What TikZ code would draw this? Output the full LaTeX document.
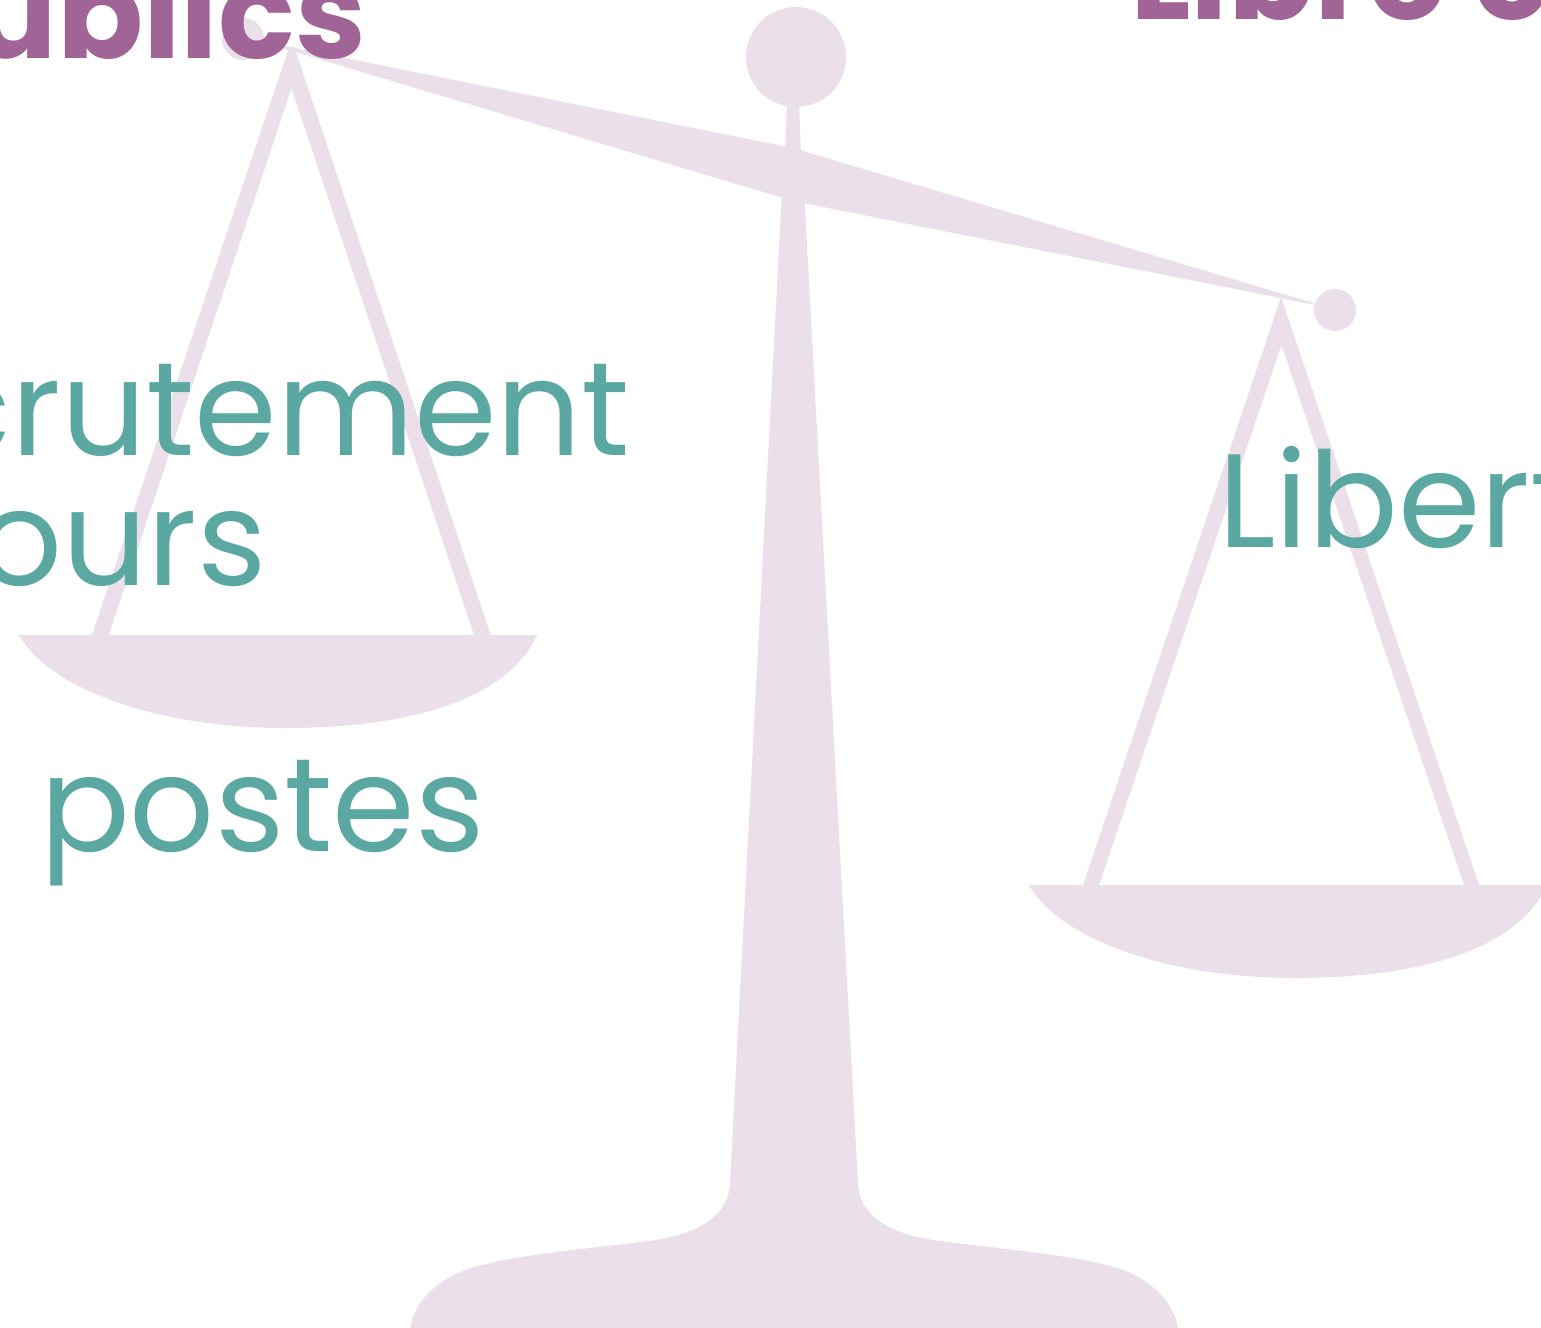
\documentclass[tikz,border=0pt]{standalone}
\usepackage{fontspec}
\newfontfamily\pop{Poppins}
\definecolor{scalec}{HTML}{EBE0EA}
\definecolor{tealc}{HTML}{5BA8A2}
\definecolor{purc}{HTML}{A06497}
\begin{document}
\begin{tikzpicture}[x=1pt,y=-1pt,
  scalefill/.style={fill=scalec,draw=none},
  tealtxt/.style={inner sep=0pt,outer sep=0pt,text=tealc,font=\pop\fontsize{133}{133}\selectfont},
  purtxt/.style={inner sep=0pt,outer sep=0pt,text=purc,font=\pop\bfseries\fontsize{127}{127}\selectfont}]
\useasboundingbox (0,0) rectangle (1541,1327);
\clip (0,0) rectangle (1541,1327);
\fill[white] (0,0) rectangle (1541,1327);
% top knob and neck
\fill[scalefill] (796,57) circle (50);
\fill[scalefill] (787,100) -- (799,100) -- (801,155) -- (785,155) -- cycle;
% beam
\fill[scalefill] (255,40) -- (793,148) -- (1330,308) -- (793,201) -- cycle;
\fill[scalefill] (243,39) circle (21);
\fill[scalefill] (1335,310) circle (21);
% pillar and base
\fill[scalefill] (782,190) -- (730,1183)
  .. controls (729,1215) and (700,1233) .. (655,1240)
  .. controls (600,1248) and (500,1255) .. (460,1272)
  .. controls (430,1285) and (412,1308) .. (410,1330)
  -- (1178,1330)
  .. controls (1176,1308) and (1158,1285) .. (1128,1272)
  .. controls (1088,1255) and (988,1248) .. (933,1240)
  .. controls (888,1233) and (859,1215) .. (858,1183)
  -- (804,190) -- cycle;
% left hanger
\fill[scalefill,even odd rule] (289.2,47) -- (92,635) -- (490.7,635) -- (294.3,47) -- cycle
  (291.5,88.3) -- (108.8,635) -- (474,635) -- cycle;
% left pan
\fill[scalefill] (19,635) .. controls (50,690) and (160,728) .. (285,728)
  .. controls (420,728) and (510,695) .. (537,635) -- cycle;
% right hanger
\fill[scalefill,even odd rule] (1281,297) -- (1083,885) -- (1479,885) -- cycle
  (1281.5,345) -- (1099,885) -- (1464,885) -- cycle;
% right pan
\fill[scalefill] (1029,885) .. controls (1060,940) and (1170,978) .. (1295,978)
  .. controls (1430,978) and (1520,945) .. (1547,885) -- cycle;
% texts
\node[purtxt,anchor=base east] (t1) at (366,59) {publics};
\node[purtxt,anchor=base west] (t2) at (1130,20) {Libre circulation};
\node[tealtxt,anchor=base east] (t3) at (630,455) {Recrutement};
\node[tealtxt,anchor=base east] (t4) at (267,585) {concours};
\node[tealtxt,anchor=base west] (t5) at (40,851) {postes};
\node[tealtxt,anchor=base west] (t6) at (1218,547) {Liberté};
\end{tikzpicture}
\end{document}
